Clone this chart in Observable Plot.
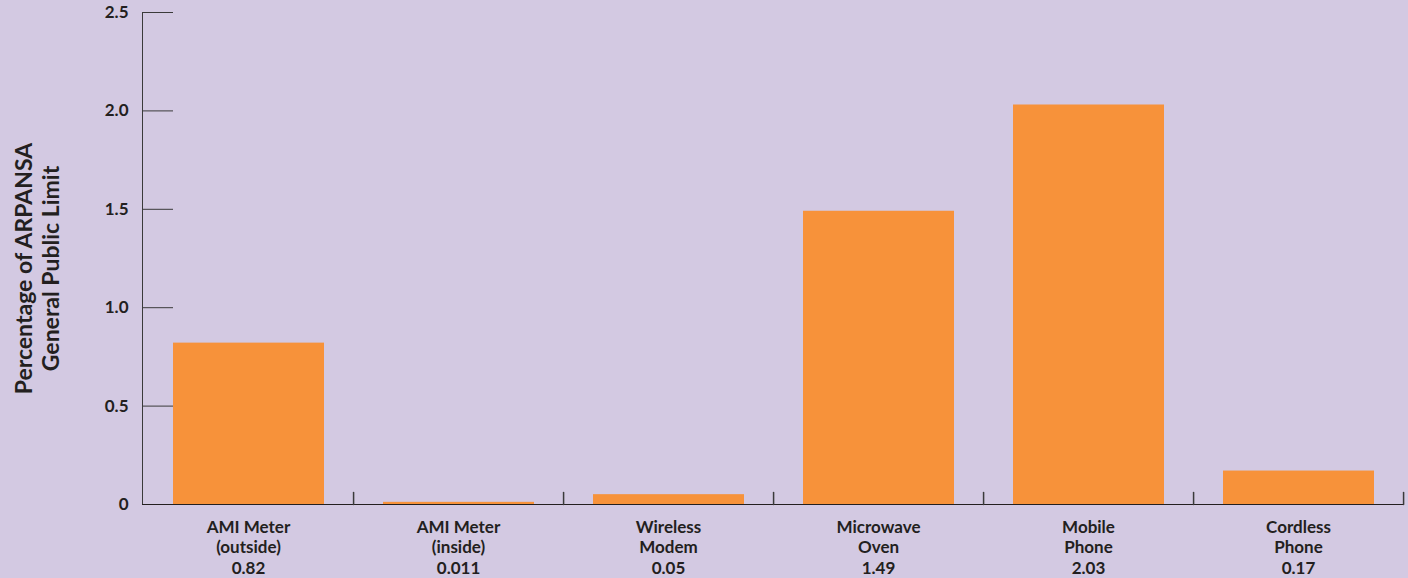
<!DOCTYPE html>
<html><head><meta charset="utf-8">
<script src="https://cdn.jsdelivr.net/npm/d3@7"></script>
<script src="https://cdn.jsdelivr.net/npm/@observablehq/plot@0.6"></script>
<style>
html,body{margin:0;padding:0;background:#d3c9e2;}
</style></head><body><div id="chart"></div>
<script>
const categories = ["AMI Meter\n(outside)", "AMI Meter\n(inside)", "Wireless\nModem", "Microwave\nOven", "Mobile\nPhone", "Cordless\nPhone"];
const values = [0.82, 0.011, 0.05, 1.49, 2.03, 0.17];
const valueLabels = ["0.82", "0.011", "0.05", "1.49", "2.03", "0.17"];
const yTicks = [0, 0.5, 1, 1.5, 2, 2.5];
const yTickLabels = ["0", "0.5", "1.0", "1.5", "2.0", "2.5"];
const yTitle = "Percentage of ARPANSA\nGeneral Public Limit";

const rows = categories.map((c, i) => ({category: c, value: values[i]}));
const W = 1408, H = 578, mL = 142, mR = 5, mT = 12, mB = 74;
const bw = (W - mL - mR) / categories.length;
const ink = "#231f20";
const axisColor = "#3a3a3a";
const lineShape = {draw(context, l) { context.moveTo(0, 0); context.lineTo(0, -l); }};

const chart = Plot.plot({
  width: W, height: H,
  marginLeft: mL, marginRight: mR, marginTop: mT, marginBottom: mB,
  style: {background: "#d3c9e2", fontFamily: "Lato, sans-serif", color: ink, overflow: "visible"},
  x: {domain: categories, padding: 0, axis: null, label: null},
  y: {domain: [0, 2.5], axis: null, label: null},
  marks: [
    Plot.frame({anchor: "left", stroke: axisColor}),
    Plot.ruleY(yTicks.filter(d => d > 0), {y: d => d, stroke: axisColor, insetRight: W - mL - mR - 31}),
    Plot.ruleY([0], {stroke: ink}),
    Plot.vector(categories, {x: d => d, y: () => 0, length: 12, rotate: 0, anchor: "start", shape: lineShape, dx: bw / 2, stroke: axisColor}),
    Plot.barY(rows, {x: "category", y: "value", fill: "#f7923a", insetLeft: 30, insetRight: 29}),
    Plot.axisY(yTicks, {label: null, tickSize: 0, tickPadding: 14, tickFormat: d => yTickLabels[yTicks.indexOf(d)], fontSize: 17, fontWeight: "bold", fill: ink}),
    Plot.axisX({label: null, tickSize: 0, tickPadding: 14, tickFormat: d => d + "\n" + valueLabels[categories.indexOf(d)], fontSize: 17, fontWeight: "bold", lineHeight: 1.2, fill: ink}),
    Plot.text([yTitle], {text: d => d, frameAnchor: "left", textAnchor: "middle", rotate: -90, dx: -106, dy: 10, fontSize: 23, fontWeight: "bold", lineHeight: 1.2, fill: ink})
  ]
});
document.getElementById("chart").append(chart);
</script>
</body></html>
